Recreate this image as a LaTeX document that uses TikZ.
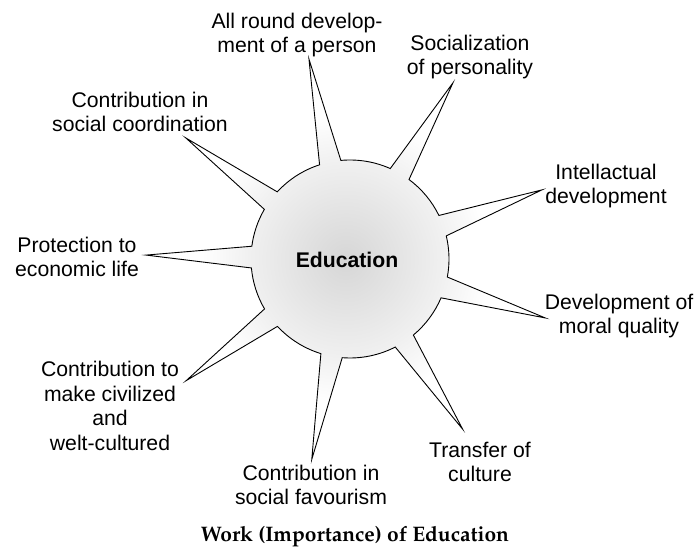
\documentclass[tikz,border=0pt]{standalone}
\usepackage{fontspec}
\setmainfont{Liberation Sans}
\usepackage{tikz}
\usetikzlibrary{calc}

\pgfdeclareradialshading{edushade}{\pgfpoint{0bp}{0bp}}{color(0bp)=(black!16); color(12bp)=(black!6); color(18bp)=(white); color(50bp)=(white)}

\tikzset{
  lbl/.style={align=center, inner sep=0pt, font=\fontsize{21.2}{24.5}\selectfont},
  star/.style={draw=black, line width=0.9pt, line join=miter, shading=edushade}
}

\begin{document}
\begin{tikzpicture}[x=1pt,y=1pt]
\useasboundingbox (0,0) rectangle (696,551);
\begin{scope}[shift={(350,292)}]
\shadedraw[star] (-149.7:99)
  \foreach \a/\b in {-143.4/-100.8, -100.8/-56.5, -56.5/-16.8, -16.8/19.8, 19.8/59.7,
                     59.7/101.6, 101.6/143.6, 143.6/178.9, 178.9/216.6}
  { -- (\a:204) -- ({\a+6.3}:99) arc[start angle={\a+6.3}, end angle={\b-6.3}, radius=99] }
  -- cycle;
\end{scope}
\node[lbl, font=\fontsize{21.2}{24.5}\selectfont\bfseries] (edu) at (347,291) {Education};
\node[lbl] (round) at (297,516) {All round develop-\\ment of a person}; %%Top
\node[lbl] (social) at (470,494) {Socialization\\of personality};
\node[lbl] (intel) at (606,365) {Intellactual\\development};
\node[lbl] (moral) at (619,235) {Development of\\moral quality};
\node[lbl] (transfer) at (480,89) {Transfer of\\culture};
\node[lbl] (favour) at (311,66) {Contribution in\\social favourism}; %%Bottom
\node[lbl] (civil) at (110,145) {Contribution to\\make civilized\\and\\welt-cultured};
\node[lbl] (protect) at (77,294) {Protection to\\economic life};
\node[lbl] (coord) at (140,439) {Contribution in\\social coordination};
\node[inner sep=0pt, font=\fontencoding{T1}\fontfamily{ppl}\fontseries{b}\fontsize{21}{24}\selectfont] (caption) at (355,14) {Work (Importance) of Education};
\end{tikzpicture}
\end{document}
